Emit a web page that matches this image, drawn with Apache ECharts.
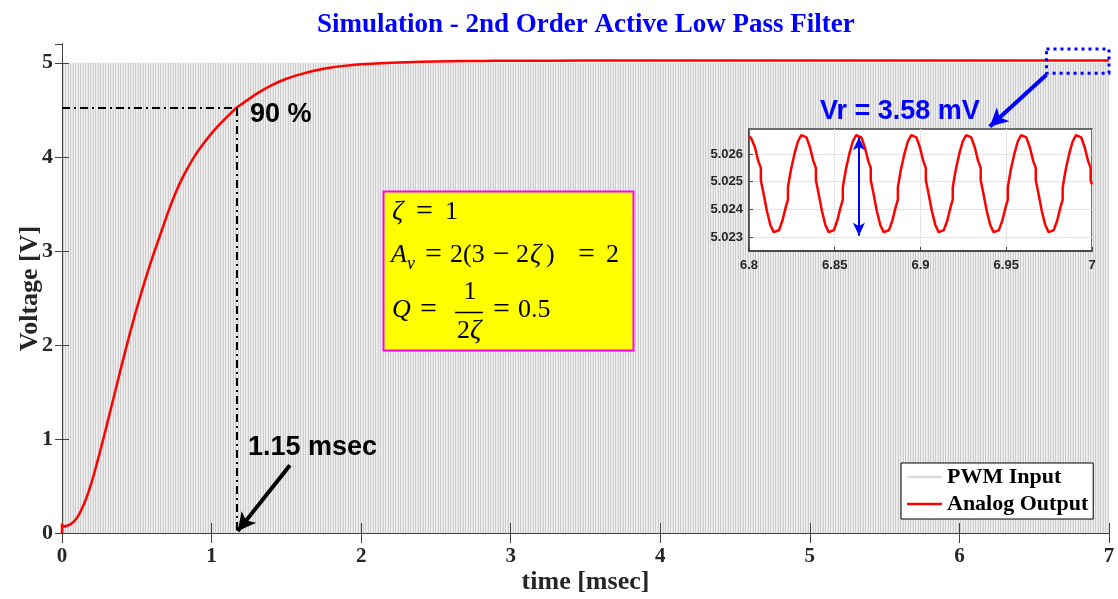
<!DOCTYPE html>
<html>
<head>
<meta charset="utf-8">
<script src="https://cdn.jsdelivr.net/npm/echarts@6/dist/echarts.min.js"></script>
<style>
  html, body { margin: 0; padding: 0; background: #fff; }
  #chart { width: 1118px; height: 599px; }
</style>
</head>
<body>
<div id="chart"></div>
<script>
// step response of the filter, [time ms, volts]
const analogOutput = [
  [0, 0], [0, 0.1], [0.005, 0.07], [0.03, 0.075], [0.06, 0.095], [0.1, 0.16],
  [0.15, 0.32], [0.2, 0.55], [0.25, 0.84], [0.3, 1.15], [0.35, 1.47], [0.4, 1.79],
  [0.45, 2.1], [0.5, 2.39], [0.55, 2.66], [0.6, 2.91], [0.65, 3.14], [0.7, 3.37],
  [0.75, 3.58], [0.8, 3.76], [0.85, 3.91], [0.9, 4.04], [0.95, 4.15], [1.0, 4.25],
  [1.05, 4.34], [1.1, 4.42], [1.165, 4.52], [1.2, 4.56], [1.3, 4.67], [1.4, 4.76],
  [1.5, 4.83], [1.6, 4.88], [1.7, 4.92], [1.8, 4.95], [1.9, 4.97], [2.0, 4.985],
  [2.2, 5.0], [2.4, 5.01], [2.6, 5.017], [2.8, 5.02], [3.0, 5.022], [3.5, 5.024],
  [4.0, 5.025], [5.0, 5.025], [6.0, 5.025], [7.0, 5.025]
];

// PWM input drawn as its 0..5 V band
const pwmInput = [[0, 5], [7, 5]];

// zoomed ripple between 6.8 and 7 ms
const insetRipple = [
  [6.8000, 5.02664], [6.8014, 5.02655], [6.8034, 5.02625], [6.8054, 5.02575], [6.8069, 5.02550],
  [6.8069, 5.02505], [6.8084, 5.02460], [6.8104, 5.02395], [6.8124, 5.02345], [6.8144, 5.02318],
  [6.8155, 5.02315], [6.8175, 5.02325], [6.8195, 5.02360], [6.8215, 5.02410], [6.8227, 5.02435],
  [6.8227, 5.02480], [6.8245, 5.02545], [6.8265, 5.02600], [6.8285, 5.02645], [6.8305, 5.02668],
  [6.8315, 5.02672], [6.8335, 5.02660], [6.8355, 5.02625], [6.8375, 5.02575], [6.8390, 5.02550],
  [6.8390, 5.02505], [6.8405, 5.02460], [6.8425, 5.02395], [6.8445, 5.02345], [6.8465, 5.02318],
  [6.8475, 5.02315], [6.8495, 5.02325], [6.8515, 5.02360], [6.8535, 5.02410], [6.8547, 5.02435],
  [6.8547, 5.02480], [6.8565, 5.02545], [6.8585, 5.02600], [6.8605, 5.02645], [6.8625, 5.02668],
  [6.8635, 5.02672], [6.8655, 5.02660], [6.8675, 5.02625], [6.8695, 5.02575], [6.8710, 5.02550],
  [6.8710, 5.02505], [6.8725, 5.02460], [6.8745, 5.02395], [6.8765, 5.02345], [6.8785, 5.02318],
  [6.8796, 5.02315], [6.8816, 5.02325], [6.8836, 5.02360], [6.8856, 5.02410], [6.8868, 5.02435],
  [6.8868, 5.02480], [6.8886, 5.02545], [6.8906, 5.02600], [6.8926, 5.02645], [6.8946, 5.02668],
  [6.8956, 5.02672], [6.8976, 5.02660], [6.8996, 5.02625], [6.9016, 5.02575], [6.9031, 5.02550],
  [6.9031, 5.02505], [6.9046, 5.02460], [6.9066, 5.02395], [6.9086, 5.02345], [6.9106, 5.02318],
  [6.9116, 5.02315], [6.9136, 5.02325], [6.9156, 5.02360], [6.9176, 5.02410], [6.9188, 5.02435],
  [6.9188, 5.02480], [6.9206, 5.02545], [6.9226, 5.02600], [6.9246, 5.02645], [6.9266, 5.02668],
  [6.9276, 5.02672], [6.9296, 5.02660], [6.9316, 5.02625], [6.9336, 5.02575], [6.9351, 5.02550],
  [6.9351, 5.02505], [6.9366, 5.02460], [6.9386, 5.02395], [6.9406, 5.02345], [6.9426, 5.02318],
  [6.9437, 5.02315], [6.9457, 5.02325], [6.9477, 5.02360], [6.9497, 5.02410], [6.9509, 5.02435],
  [6.9509, 5.02480], [6.9527, 5.02545], [6.9547, 5.02600], [6.9567, 5.02645], [6.9587, 5.02668],
  [6.9597, 5.02672], [6.9617, 5.02660], [6.9637, 5.02625], [6.9657, 5.02575], [6.9672, 5.02550],
  [6.9672, 5.02505], [6.9687, 5.02460], [6.9707, 5.02395], [6.9727, 5.02345], [6.9747, 5.02318],
  [6.9757, 5.02315], [6.9777, 5.02325], [6.9797, 5.02360], [6.9817, 5.02410], [6.9829, 5.02435],
  [6.9829, 5.02480], [6.9847, 5.02545], [6.9867, 5.02600], [6.9887, 5.02645], [6.9907, 5.02668],
  [6.9917, 5.02672], [6.9937, 5.02660], [6.9957, 5.02625], [6.9977, 5.02575], [6.9992, 5.02550],
  [6.9992, 5.02505], [7.0000, 5.02490]
];

const insetYTicks = [5.023, 5.024, 5.025, 5.026];
const riseTime = 1.165;
const riseLevel = 4.52;
const rippleArrow = [[6.8641, 5.02305], [6.8641, 5.0266]];

const AXIS = '#404040';
const SERIF = '"Liberation Serif", "Times New Roman", serif';
const SANS = '"Liberation Sans", Arial, sans-serif';

// thin vertical stripes to mimic the fast PWM switching
function stripePattern() {
  const c = document.createElement('canvas');
  c.width = 5;
  c.height = 4;
  const ctx = c.getContext('2d');
  const cols = ['#cbcbcb', '#efefef', '#e6e6e6', '#cfcfcf', '#f1f1f1'];
  cols.forEach((col, i) => {
    ctx.fillStyle = col;
    ctx.fillRect(i, 0, 1, 4);
  });
  return c;
}

function mathText(x, y, text, opts = {}) {
  return {
    type: 'text',
    x: x,
    y: y,
    z: 20,
    style: {
      text: text,
      font: (opts.italic ? 'italic ' : '') + (opts.size || 26) + 'px ' + SERIF,
      fill: '#000',
      align: opts.align || 'left',
      verticalAlign: 'middle',
    },
  };
}

function label(x, y, text, color) {
  return {
    type: 'text',
    x: x,
    y: y,
    z: 20,
    style: {
      text: text,
      font: 'bold 27px ' + SANS,
      fill: color,
      verticalAlign: 'middle',
    },
  };
}

const chart = echarts.init(document.getElementById('chart'));

const mainAxisCommon = {
  axisLine: { show: true, lineStyle: { color: AXIS, width: 1 } },
  axisTick: { show: true, inside: true, lineStyle: { color: AXIS } },
  splitLine: { show: false },
  z: 3,
};

const option = {
  animation: false,
  backgroundColor: '#fff',
  title: {
    text: 'Simulation - 2nd Order Active Low Pass Filter',
    left: 312,
    top: 7,
    textStyle: { color: '#0000ff', fontFamily: SERIF, fontWeight: 'bold', fontSize: 27 },
  },
  legend: {
    left: 901,
    top: 463,
    orient: 'vertical',
    selectedMode: false,
    backgroundColor: '#fff',
    borderColor: '#000',
    borderWidth: 1,
    padding: [3, 5, 4, 6],
    itemGap: 5,
    itemWidth: 35,
    itemHeight: 2.5,
    icon: 'rect',
    textStyle: { fontFamily: SERIF, fontWeight: 'bold', fontSize: 22, color: '#000', lineHeight: 22 },
    data: ['PWM Input', 'Analog Output'],
  },
  grid: [
    { left: 62, right: 9, top: 44, bottom: 66, outerBoundsMode: 'none' },
    {
      left: 749, top: 129, width: 343, height: 122, show: true, z: 5, outerBoundsMode: 'none',
      backgroundColor: '#fff', borderColor: AXIS, borderWidth: 1.5,
    },
  ],
  xAxis: [
    Object.assign({}, mainAxisCommon, {
      type: 'value', gridIndex: 0, min: 0, max: 7, interval: 1, position: 'bottom',
      axisTick: { show: true, inside: true, length: 10, lineStyle: { color: AXIS } },
      axisLabel: { margin: 13, color: '#262626', fontFamily: SERIF, fontWeight: 'bold', fontSize: 21 },
      name: 'time [msec]',
      nameLocation: 'middle',
      nameGap: 36,
      nameMoveOverlap: false,
      nameTextStyle: { color: '#262626', fontFamily: SERIF, fontWeight: 'bold', fontSize: 26 },
    }),
    Object.assign({}, mainAxisCommon, {
      type: 'value', gridIndex: 0, min: 0, max: 7, interval: 1, position: 'top',
      axisTick: { show: true, inside: true, length: 10, lineStyle: { color: AXIS } },
      axisLabel: { show: false },
    }),
    {
      type: 'value', gridIndex: 1, min: 6.8, max: 7, interval: 0.05, z: 6,
      axisLine: { show: true, lineStyle: { color: AXIS, width: 1.5 } },
      axisTick: { show: true, inside: true, length: 4, lineStyle: { color: AXIS } },
      axisLabel: { margin: 8, color: '#262626', fontFamily: SANS, fontWeight: 'bold', fontSize: 13 },
      splitLine: { show: true, lineStyle: { color: '#e3e3e3', width: 1 } },
    },
  ],
  yAxis: [
    Object.assign({}, mainAxisCommon, {
      type: 'value', gridIndex: 0, min: 0, max: 5.2, interval: 1, position: 'left',
      axisTick: { show: true, inside: true, length: 7, lineStyle: { color: AXIS } },
      axisLabel: { margin: 9, color: '#262626', fontFamily: SERIF, fontWeight: 'bold', fontSize: 22 },
      name: 'Voltage [V]',
      nameLocation: 'middle',
      nameGap: 19,
      nameMoveOverlap: false,
      nameTextStyle: { color: '#262626', fontFamily: SERIF, fontWeight: 'bold', fontSize: 26 },
    }),
    Object.assign({}, mainAxisCommon, {
      type: 'value', gridIndex: 0, min: 0, max: 5.2, interval: 1, position: 'right',
      axisTick: { show: true, inside: true, length: 7, lineStyle: { color: AXIS } },
      axisLabel: { show: false },
    }),
    {
      type: 'value', gridIndex: 1, min: 5.0225, max: 5.0269, z: 6,
      axisLine: { show: true, lineStyle: { color: AXIS, width: 1.5 } },
      axisTick: { show: true, inside: true, length: 4, customValues: insetYTicks, lineStyle: { color: AXIS } },
      axisLabel: {
        margin: 6, customValues: insetYTicks, color: '#262626',
        fontFamily: SANS, fontWeight: 'bold', fontSize: 13,
      },
      splitLine: { show: true, lineStyle: { color: '#e3e3e3', width: 1 } },
    },
  ],
  series: [
    {
      name: 'PWM Input',
      type: 'line',
      xAxisIndex: 0,
      yAxisIndex: 0,
      data: pwmInput,
      symbol: 'none',
      z: 1,
      lineStyle: { color: '#dcdcdc', width: 0 },
      itemStyle: { color: '#dcdcdc' },
      areaStyle: { color: { image: stripePattern(), repeat: 'repeat' }, opacity: 1 },
    },
    {
      name: 'Analog Output',
      type: 'line',
      xAxisIndex: 0,
      yAxisIndex: 0,
      data: analogOutput,
      symbol: 'none',
      smooth: 0.2,
      z: 3,
      lineStyle: { color: '#ff0000', width: 2.5 },
      itemStyle: { color: '#ff0000' },
      markLine: {
        silent: true,
        symbol: 'none',
        z: 8,
        label: { show: false },
        data: [
          [
            { coord: [0, riseLevel], lineStyle: { color: '#000', width: 2, type: [8, 4, 2, 4] } },
            { coord: [riseTime, riseLevel] },
          ],
          [
            { coord: [riseTime, riseLevel], lineStyle: { color: '#000', width: 2, type: [8, 4, 2, 4] } },
            { coord: [riseTime, 0] },
          ],
          [
            { coord: [1.524, 0.72], symbol: 'none', lineStyle: { color: '#000', width: 4, type: 'solid' } },
            { coord: [riseTime + 0.01, 0.02], symbol: 'arrow', symbolSize: [14, 18] },
          ],
          [
            { coord: [6.582, 4.872], symbol: 'none', lineStyle: { color: '#0000ff', width: 4, type: 'solid' } },
            { coord: [6.203, 4.322], symbol: 'arrow', symbolSize: [14, 18] },
          ],
        ],
      },
      markArea: {
        silent: true,
        z: 10,
        itemStyle: { color: 'rgba(0,0,0,0)', borderColor: '#0000ff', borderWidth: 3, borderType: [3, 4] },
        data: [[{ coord: [6.582, 5.146] }, { coord: [7.0, 4.89] }]],
      },
    },
    {
      name: 'ripple',
      type: 'line',
      xAxisIndex: 2,
      yAxisIndex: 2,
      data: insetRipple,
      symbol: 'none',
      z: 7,
      lineStyle: { color: '#ff0000', width: 2.5 },
      markLine: {
        silent: true,
        symbol: ['arrow', 'arrow'],
        symbolSize: [9, 13],
        z: 9,
        label: { show: false },
        lineStyle: { color: '#0000ff', width: 2, type: 'solid' },
        data: [[{ coord: rippleArrow[0] }, { coord: rippleArrow[1] }]],
      },
    },
  ],
  graphic: [
    {
      type: 'rect',
      z: 15,
      shape: { x: 383.5, y: 191.5, width: 250, height: 159 },
      style: { fill: '#ffff00', stroke: '#ff00ff', lineWidth: 2 },
    },
    mathText(392, 212, 'ζ', { italic: true, size: 28 }),
    mathText(416, 212, '=', { size: 30 }),
    mathText(445, 212, '1'),
    mathText(391, 255, 'A', { italic: true }),
    mathText(407, 264, 'v', { italic: true, size: 18 }),
    mathText(425, 255, '=', { size: 30 }),
    mathText(450, 255, '2(3'),
    mathText(493, 255, '−', { size: 30 }),
    mathText(516, 255, '2'),
    mathText(530, 255, 'ζ', { italic: true, size: 28 }),
    mathText(546, 255, ')'),
    mathText(578, 255, '=', { size: 30 }),
    mathText(606, 255, '2'),
    mathText(392, 310, 'Q', { italic: true }),
    mathText(420, 310, '=', { size: 30 }),
    mathText(470, 292, '1', { align: 'center' }),
    {
      type: 'line',
      z: 20,
      shape: { x1: 455, y1: 312.5, x2: 483, y2: 312.5 },
      style: { stroke: '#000', lineWidth: 1.5 },
    },
    mathText(457, 331, '2'),
    mathText(470, 331, 'ζ', { italic: true, size: 28 }),
    mathText(493, 310, '=', { size: 30 }),
    mathText(518, 310, '0.5'),
    label(250, 115, '90 %', '#000'),
    label(248, 448, '1.15 msec', '#000'),
    label(820, 112, 'Vr = 3.58 mV', '#0000ff'),
  ],
};

chart.setOption(option);

window.addEventListener('resize', () => {
  chart.resize();
});
</script>
</body>
</html>
